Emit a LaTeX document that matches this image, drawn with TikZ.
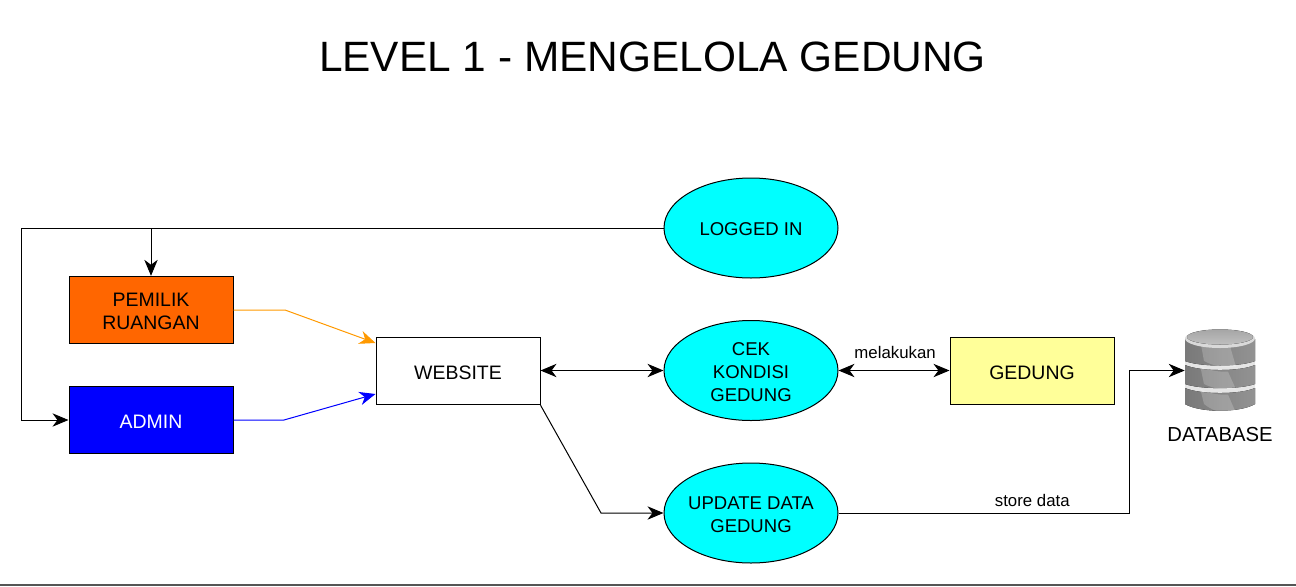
\documentclass[tikz,border=0pt]{standalone}
\usepackage{fontspec}
\setmainfont{Liberation Sans}
\usetikzlibrary{arrows.meta,shapes.geometric}
\definecolor{pemilikfill}{HTML}{FF6600}
\definecolor{gedungfill}{HTML}{FFFF99}
\definecolor{arroworange}{HTML}{FF9900}
\definecolor{prosesfill}{HTML}{00FFFF}
\definecolor{footline}{HTML}{555555}
\newcommand{\tb}[1]{\raisebox{-1.1pt}[\height][\depth]{#1}}
\tikzset{
  boxnode/.style={draw,line width=0.75pt,minimum width=123pt,minimum height=50.5pt,inner sep=0pt,align=center,font=\fontsize{14.6}{17.25}\selectfont},
  prosesnode/.style={draw,ellipse,fill=prosesfill,line width=0.75pt,minimum width=130.5pt,minimum height=75pt,inner sep=-8pt,align=center,font=\fontsize{13.9}{17.25}\selectfont},
  panah/.style={-{Stealth[length=12pt,width=10pt,inset=3.7pt]},line width=0.75pt},
  duapanah/.style={{Stealth[length=12pt,width=10pt,inset=3.7pt]}-{Stealth[length=12pt,width=10pt,inset=3.7pt]},line width=0.75pt},
  teks/.style={inner sep=0pt,font=\fontsize{12.6}{15}\selectfont}
}
\begin{document}
\begin{tikzpicture}[x=0.75pt,y=-0.75pt]
\useasboundingbox (0,0) rectangle (1296,586);
% Title:
\node (judul) [inner sep=0pt,font=\fontsize{31.8}{38}\selectfont] at (652.5,56.5) {LEVEL 1 - MENGELOLA GEDUNG};
% Boxes:
\node (pemilik) [boxnode,fill=pemilikfill] at (151,310) {\tb{PEMILIK}\\\tb{RUANGAN}};
\node (admin) [boxnode,fill=blue,text=white] at (151,420) {\tb{ADMIN}};
\node (website) [boxnode] at (458,371) {\tb{WEBSITE}};
\node (gedung) [boxnode,fill=gedungfill] at (1032,371) {\tb{GEDUNG}};
% Ellipses:
\node (logged) [prosesnode] at (751,228) {\tb{LOGGED IN}};
\node (cek) [prosesnode] at (751,370.5) {\tb{CEK}\\\tb{KONDISI}\\\tb{GEDUNG}};
\node (update) [prosesnode] at (751,513) {\tb{UPDATE DATA}\\\tb{GEDUNG}};
% Database:
\node (db) [minimum width=52.5pt,minimum height=63pt,inner sep=0pt] at (1220,370.5) {};
\fill[gray!20] (1185,339) -- (1255,339) -- (1255,404) .. controls (1240,413) and (1200,413) .. (1185,404) -- cycle;
\foreach \ya/\yc/\yb/\yd in {339/339/361/367,365/371.7/384/389.5,388/394.7/404/413} {
  \fill[left color=gray!95!black,middle color=gray!40,right color=gray!85]
    (1185,\ya) .. controls (1200,\yc) and (1240,\yc) .. (1255,\ya) -- (1255,\yb)
    .. controls (1240,\yd) and (1200,\yd) .. (1185,\yb) -- cycle;
  \fill[white,opacity=0.2]
    (1200,\ya) .. controls (1210,\yc) and (1220,\yc) .. (1228,\yc) -- (1236,\yd)
    .. controls (1225,\yd) and (1215,\yd) .. (1204,\yb) -- cycle;
}
\fill[gray!30] (1220,338.5) ellipse (35 and 9.5);
\fill[top color=gray!70,bottom color=gray!50] (1220,337) ellipse (33 and 7.5);
\node (dblabel) [inner sep=0pt,font=\fontsize{15.2}{18}\selectfont] at (1220,434.5) {DATABASE};
% Connectors:
\coordinate (topleft) at (21,228);
\coordinate (tee) at (151,228);
\coordinate (botleft) at (21,420);
\draw[line width=0.75pt] (logged.west) -- (topleft) -- (botleft);
\draw[panah] (tee) -- (pemilik.north);
\draw[panah] (botleft) -- (admin.west);
\coordinate (orangebend) at (285,310);
\coordinate (bluebend) at (284,420);
\draw[panah,arroworange] (pemilik.east) -- (orangebend) -- (website.west |- 0,343);
\draw[panah,blue] (admin.east) -- (bluebend) -- (website.west |- 0,394);
\draw[duapanah] (website.east |- cek.west) -- (cek.west);
\draw[duapanah] (cek.east) -- node[teks,above=8.5pt,pos=0.51] (melakukan) {melakukan} (gedung.west |- cek.east);
\coordinate (webbend) at (601,513);
\draw[panah] (website.south east) -- (webbend) -- (update.west);
\coordinate (dbbend1) at (1129,513);
\coordinate (dbbend2) at (1129,370.5);
\draw[panah] (update.east) -- node[teks,above=4.5pt,pos=0.667] (store) {store data} (dbbend1) -- (dbbend2) -- (db.west);
% Bottom rule:
\fill[footline] (0,584) rectangle (1296,586);
\end{tikzpicture}
\end{document}
